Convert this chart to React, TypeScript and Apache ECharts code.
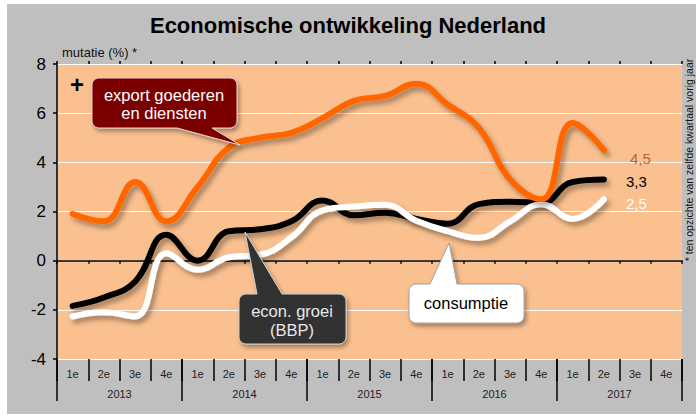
import React, { useEffect, useRef } from 'react';
import * as echarts from 'echarts';

const quarterLabels = ['1e', '2e', '3e', '4e', '1e', '2e', '3e', '4e', '1e', '2e', '3e', '4e', '1e', '2e', '3e', '4e', '1e', '2e', '3e', '4e'];
const yearLabels = ['2013', '2014', '2015', '2016', '2017'];
const exportValues = [1.9, 1.6, 3.2, 1.6, 3.0, 4.6, 5.0, 5.2, 5.8, 6.5, 6.7, 7.2, 6.35, 5.4, 3.3, 2.5, 5.6, 4.5];
const bbpValues = [-1.84, -1.5, -0.85, 1.05, 0.0, 1.2, 1.28, 1.6, 2.45, 1.85, 1.95, 1.7, 1.5, 2.3, 2.4, 2.35, 3.2, 3.3];
const consumptieValues = [-2.27, -2.1, -2.27, 0.3, -0.37, 0.14, 0.24, 0.95, 2.05, 2.2, 2.27, 1.62, 1.2, 0.93, 1.6, 2.3, 1.7, 2.5];

const FONT = '"Liberation Sans", Arial, sans-serif';
const fmt = (v: number) => v.toFixed(1).replace('.', ',');

function callout(x: number, y: number, w: number, h: number, r: number, side: 'top' | 'bottom', b1: number, b2: number, tip: [number, number]) {
  const pts: number[][] = [];
  const arc = (cx: number, cy: number, a0: number, a1: number) => {
    const n = 6;
    for (let i = 0; i <= n; i++) {
      const a = a0 + ((a1 - a0) * i) / n;
      pts.push([cx + r * Math.cos(a), cy + r * Math.sin(a)]);
    }
  };
  // top edge
  arc(x + r, y + r, Math.PI, Math.PI * 1.5);
  if (side === 'top') {
    pts.push([b1, y], tip, [b2, y]);
  }
  arc(x + w - r, y + r, -Math.PI / 2, 0);
  arc(x + w - r, y + h - r, 0, Math.PI / 2);
  if (side === 'bottom') {
    pts.push([b2, y + h], tip, [b1, y + h]);
  }
  arc(x + r, y + h - r, Math.PI / 2, Math.PI);
  return pts;
}

const shadow = { shadowBlur: 4, shadowOffsetX: 2, shadowOffsetY: 3, shadowColor: 'rgba(0,0,0,0.35)' };
const lineShadow = { shadowBlur: 5, shadowOffsetX: 3, shadowOffsetY: 4, shadowColor: 'rgba(0,0,0,0.35)' };

export default function App() {
  const ref = useRef<HTMLDivElement>(null);
  useEffect(() => {
    if (!ref.current) return;
    const chart = echarts.init(ref.current, undefined, { renderer: 'svg' });
    const gridRect = { left: 57, right: 14, top: 64, bottom: 58, outerBoundsMode: 'none' } as any;
    const mkSeries = (name: string, data: number[], color: string, labelColor: string, offset: number[]) => ({
      name,
      type: 'line',
      xAxisIndex: 0,
      yAxisIndex: 0,
      data,
      smooth: 0.45,
      symbol: 'none',
      lineStyle: { color, width: 6, cap: 'round', ...lineShadow },
      endLabel: {
        show: true,
        formatter: (p: any) => fmt(p.value),
        color: labelColor,
        fontSize: 15,
        fontFamily: FONT,
        offset,
      },
      emphasis: { disabled: true },
      z: 5,
    });
    chart.setOption({
      animation: false,
      backgroundColor: 'transparent',
      title: {
        text: 'Economische ontwikkeling Nederland',
        left: 'center',
        top: 9,
        textStyle: { fontSize: 22, fontWeight: 'bold', fontFamily: FONT, color: '#000' },
      },
      grid: [
        { ...gridRect, show: true, backgroundColor: '#fac08f', borderWidth: 0 },
        { ...gridRect },
        { ...gridRect },
      ],
      xAxis: [
        {
          gridIndex: 0,
          type: 'category',
          data: quarterLabels,
          position: 'bottom',
          axisLine: { onZero: false, lineStyle: { color: '#ffffff', width: 1 } },
          axisTick: { show: true, interval: 0, length: 22, lineStyle: { color: '#000', width: 1.5 } },
          axisLabel: { interval: 0, fontSize: 11, color: '#222', margin: 9, fontFamily: FONT },
          splitLine: { show: false },
        },
        {
          gridIndex: 1,
          type: 'category',
          data: quarterLabels,
          position: 'bottom',
          axisLine: { onZero: true, lineStyle: { color: '#000', width: 1.5 } },
          axisTick: { show: true, interval: 0, length: 3, lineStyle: { color: '#000', width: 1.5 } },
          axisLabel: { show: false },
          splitLine: { show: false },
        },
        {
          gridIndex: 1,
          type: 'category',
          data: quarterLabels,
          position: 'top',
          axisLine: { onZero: true, show: false },
          axisTick: { show: true, interval: 0, length: 3, lineStyle: { color: '#000', width: 1.5 } },
          axisLabel: { show: false },
          splitLine: { show: false },
        },
        {
          gridIndex: 2,
          type: 'category',
          data: yearLabels,
          position: 'bottom',
          axisLine: { show: false, onZero: false },
          axisTick: { show: true, interval: 0, length: 42, lineStyle: { color: '#000', width: 1.5 } },
          axisLabel: { interval: 0, fontSize: 11, color: '#222', margin: 29, fontFamily: FONT },
          splitLine: { show: false },
        },
      ],
      yAxis: [
        {
          gridIndex: 0,
          type: 'value',
          min: -4,
          max: 8,
          interval: 2,
          axisLine: { show: true, lineStyle: { color: '#000', width: 1.5 } },
          axisTick: { show: true, length: 4, lineStyle: { color: '#000', width: 1.5 } },
          axisLabel: { fontSize: 17, color: '#000', margin: 11, fontFamily: FONT },
          splitLine: { show: true, lineStyle: { color: '#ffffff', width: 1 } },
        },
        { gridIndex: 1, type: 'value', min: -4, max: 8, interval: 2, show: false },
        { gridIndex: 2, type: 'value', min: -4, max: 8, interval: 2, show: false },
      ],
      series: [
        mkSeries('econ. groei (BBP)', bbpValues, '#000000', '#000000', [14, 2]),
        mkSeries('consumptie', consumptieValues, '#ffffff', '#ffffff', [14, 4]),
        mkSeries('export goederen en diensten', exportValues, '#ff6600', '#b8662a', [18, 8]),
      ],
      graphic: [
        {
          type: 'text',
          x: 62,
          y: 52,
          style: { text: 'mutatie (%) *', fill: '#111', fontSize: 13, fontFamily: FONT, align: 'left', verticalAlign: 'middle' },
        },
        {
          type: 'text',
          x: 689,
          y: 160,
          rotation: Math.PI / 2,
          style: { text: '* ten opzichte van zelfde kwartaal vorig jaar', fill: '#111', fontSize: 10.5, fontFamily: FONT, align: 'center', verticalAlign: 'middle' },
        },
        {
          type: 'text',
          x: 77,
          y: 84,
          z: 50,
          style: { text: '+', fill: '#000', fontSize: 24, fontWeight: 'bold', fontFamily: FONT, align: 'center', verticalAlign: 'middle' },
        },
        {
          type: 'polygon',
          z: 50,
          shape: { points: callout(92, 78, 145, 50, 7, 'bottom', 177, 212, [240, 145]) },
          style: { fill: '#7a0000', stroke: '#ead0d0', lineWidth: 1, ...shadow },
        },
        {
          type: 'text',
          x: 164,
          y: 104,
          z: 51,
          style: { text: 'export goederen\nen diensten', fill: '#ffffff', fontSize: 16.5, lineHeight: 18, fontFamily: FONT, align: 'center', verticalAlign: 'middle' },
        },
        {
          type: 'polygon',
          z: 50,
          shape: { points: callout(239, 294, 107, 50, 7, 'top', 257, 282, [245, 232]) },
          style: { fill: '#333333', stroke: '#cfcfcf', lineWidth: 1, ...shadow },
        },
        {
          type: 'text',
          x: 292,
          y: 320,
          z: 51,
          style: { text: 'econ. groei\n(BBP)', fill: '#e8e8e8', fontSize: 16.5, lineHeight: 19, fontFamily: FONT, align: 'center', verticalAlign: 'middle' },
        },
        {
          type: 'polygon',
          z: 50,
          shape: { points: callout(409, 284, 115, 39, 7, 'top', 430, 457, [449, 243]) },
          style: { fill: '#ffffff', stroke: '#a0a0a0', lineWidth: 1, ...shadow },
        },
        {
          type: 'text',
          x: 466,
          y: 303,
          z: 51,
          style: { text: 'consumptie', fill: '#000', fontSize: 16.5, fontFamily: FONT, align: 'center', verticalAlign: 'middle' },
        },
      ],
    });
    return () => chart.dispose();
  }, []);
  return (
    <div style={{ position: 'fixed', left: 0, top: 0, width: 696, height: 417, background: '#ffffff' }}>
      <div style={{ position: 'absolute', left: 7, top: 4, width: 689, height: 410, background: '#bfbfbf' }} />
      <div ref={ref} style={{ position: 'absolute', left: 0, top: 0, width: 696, height: 417 }} />
    </div>
  );
}
